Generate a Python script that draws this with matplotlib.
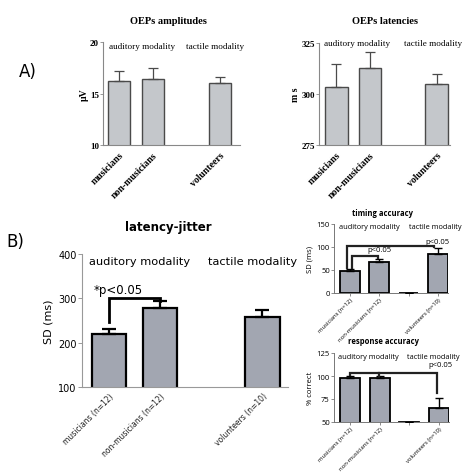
import matplotlib
matplotlib.use("Agg")
import matplotlib.pyplot as plt
import numpy as np

# ---------------- data ----------------
groups_a = ["musicians", "non-musicians", "volunteers"]
amp_means = [16.2, 16.4, 16.0]
amp_err = [1.0, 1.1, 0.65]
lat_means = [303.6, 312.6, 304.8]
lat_err = [11.0, 8.2, 5.2]

groups_b = ["musicians (n=12)", "non-musicians (n=12)", "volunteers (n=10)"]
jitter_means = [218.7, 278.8, 257.9]
jitter_err = [12.8, 14.2, 14.8]

groups_c = ["musicians (n=12)", "non-musicians (n=12)", "", "volunteers (n=10)"]
timing_means = [47.0, 68.0, 0.6, 84.8]
timing_err = [5.0, 6.6, 0.0, 12.2]
resp_means = [98.3, 98.3, 50.4, 65.5]
resp_err = [1.7, 1.7, 0.0, 10.5]

W, H = 474, 477
fig = plt.figure(figsize=(W / 100, H / 100), dpi=100)


def ax_at(x0, y0, x1, y1):
    return fig.add_axes([x0 / W, 1 - y1 / H, (x1 - x0) / W, (y1 - y0) / H])


def ftext(x, y, s, **kw):
    fig.text(x / W, 1 - y / H, s, **kw)


serif = "Liberation Serif"
comic = "DejaVu Sans"
myriad = "Open Sans"

# ---------------- panel A ----------------
light = "#c4c7cb"
edge_a = "#4a4a4a"


def style_a(ax, ylim, yticks, ylabel, xlim):
    for s in ["top", "right"]:
        ax.spines[s].set_visible(False)
    ax.spines["left"].set_color("#888888")
    ax.spines["bottom"].set_color("#888888")
    ax.set_ylim(*ylim)
    ax.set_xlim(*xlim)
    ax.set_yticks(yticks)
    ax.set_yticklabels([str(t) for t in yticks], fontfamily=serif,
                       fontweight="bold", fontsize=6.5)
    ax.tick_params(axis="y", length=2, width=0.6, color="#888888", pad=1)
    ax.tick_params(axis="x", length=0)
    ax.set_ylabel(ylabel, fontfamily=serif, fontweight="bold", fontsize=7,
                  labelpad=1)


pos_a = [0, 1, 3]
ax1 = ax_at(103, 43, 240, 146)
ax1.bar(pos_a, amp_means, width=0.65, color=light, edgecolor=edge_a,
        linewidth=1.0, zorder=2)
ax1.errorbar(pos_a, amp_means, yerr=[np.zeros(3), amp_err], fmt="none",
             ecolor=edge_a, elinewidth=0.9, capsize=3.5, capthick=0.9, zorder=3)
style_a(ax1, (10, 20), [10, 15, 20], "µV", (-0.48, 3.6))
ax1.set_xticks(pos_a)
ax1.set_xticklabels(groups_a, rotation=45, ha="right", rotation_mode="anchor",
                    fontfamily=serif, fontweight="bold", fontsize=7)
ax1.text(0.68, 19.6, "auditory modality", ha="center", va="center",
         fontfamily=serif, fontsize=6.6, clip_on=False)
ax1.text(2.85, 19.6, "tactile modality", ha="center", va="center",
         fontfamily=serif, fontsize=6.6, clip_on=False)
ftext(168, 21, "OEPs amplitudes", ha="center", va="center", fontfamily=serif,
      fontweight="bold", fontsize=7.5)

ax2 = ax_at(319, 44, 450, 146)
ax2.bar(pos_a, lat_means, width=0.67, color=light, edgecolor=edge_a,
        linewidth=1.0, zorder=2)
ax2.errorbar(pos_a, lat_means, yerr=[np.zeros(3), lat_err], fmt="none",
             ecolor=edge_a, elinewidth=0.9, capsize=3.5, capthick=0.9, zorder=3)
style_a(ax2, (275, 325), [275, 300, 325], "m s", (-0.52, 3.4))
ax2.set_xticks(pos_a)
ax2.set_xticklabels(groups_a, rotation=45, ha="right", rotation_mode="anchor",
                    fontfamily=serif, fontweight="bold", fontsize=7)
ax2.text(0.63, 325, "auditory modality", ha="center", va="center",
         fontfamily=serif, fontsize=6.6, clip_on=False)
ax2.text(2.88, 325, "tactile modality", ha="center", va="center",
         fontfamily=serif, fontsize=6.6, clip_on=False)
ftext(385, 21, "OEPs latencies", ha="center", va="center", fontfamily=serif,
      fontweight="bold", fontsize=7.5)

ftext(28, 72, "A)", ha="center", va="center", fontfamily="DejaVu Sans",
      fontsize=12)
ftext(15, 242, "B)", ha="center", va="center", fontfamily="DejaVu Sans",
      fontsize=12)

# ---------------- panel B left ----------------
dark = "#a2a6b1"
ax3 = ax_at(82, 255, 288, 388)
pos_b = [0, 1, 3]
ax3.bar(pos_b, jitter_means, width=0.67, color=dark, edgecolor="black",
        linewidth=1.6, zorder=2)
ax3.errorbar(pos_b, jitter_means, yerr=[np.zeros(3), jitter_err], fmt="none",
             ecolor="black", elinewidth=1.6, capsize=5, capthick=1.6, zorder=3)
for s in ["top", "right"]:
    ax3.spines[s].set_visible(False)
ax3.spines["left"].set_color("#999999")
ax3.spines["bottom"].set_color("#999999")
ax3.set_ylim(100, 400)
ax3.set_xlim(-0.53, 3.5)
ax3.set_yticks([100, 200, 300, 400])
ax3.set_yticklabels(["100", "200", "300", "400"], fontfamily=comic, fontsize=7)
ax3.tick_params(axis="y", length=3, width=0.7, color="#999999", pad=1)
ax3.tick_params(axis="x", length=0, pad=3)
ax3.set_xticks(pos_b)
ax3.set_xticklabels(groups_b, rotation=45, ha="right", rotation_mode="anchor",
                    fontfamily=comic, fontsize=5.5, color="#222222")
ax3.set_ylabel("SD (ms)", fontfamily=comic, fontsize=8, labelpad=3)
ax3.text(0.59, 384, "auditory modality", ha="center", va="center",
         fontfamily=comic, fontsize=8.2, clip_on=False)
ax3.text(2.81, 384, "tactile modality", ha="center", va="center",
         fontfamily=comic, fontsize=8.2, clip_on=False)
ax3.plot([0, 0, 1, 1], [247, 300.5, 300.5, 294], color="black", lw=2.0,
         solid_joinstyle="miter", zorder=4)
ax3.text(0.18, 321, "*p<0.05", ha="center", va="center", fontfamily=comic,
         fontsize=8.5)
ftext(168, 228, "latency-jitter", ha="center", va="center", fontfamily=comic,
      fontsize=8.5, fontweight="bold")

# ---------------- panel B right ----------------
pos_c = [0, 1, 2, 3]


def style_c(ax, ylim, yticks, ylabel):
    for s in ["top", "right"]:
        ax.spines[s].set_visible(False)
    ax.spines["left"].set_color("#777777")
    ax.spines["bottom"].set_color("#777777")
    ax.spines["left"].set_linewidth(0.7)
    ax.spines["bottom"].set_linewidth(0.7)
    ax.set_ylim(*ylim)
    ax.set_xlim(-0.55, 3.35)
    ax.set_yticks(yticks)
    ax.set_yticklabels([str(t) for t in yticks], fontfamily=myriad, fontsize=5.5)
    ax.tick_params(axis="y", length=2, width=0.6, color="#777777", pad=1)
    ax.tick_params(axis="x", length=2, width=0.6, color="#777777", pad=1)
    ax.set_xticks(pos_c)
    ax.set_xticklabels(groups_c, rotation=45, ha="right",
                       rotation_mode="anchor", fontfamily=myriad, fontsize=4.2)
    ax.set_ylabel(ylabel, fontfamily=myriad, fontsize=5.5, labelpad=2)


ax4 = ax_at(334, 225, 448, 294)
ax4.bar(pos_c, timing_means, width=0.68, color=dark, edgecolor="black",
        linewidth=1.3, zorder=2)
ax4.errorbar(pos_c, timing_means, yerr=[np.zeros(4), timing_err], fmt="none",
             ecolor="black", elinewidth=1.0, capsize=3, capthick=1.0, zorder=3)
style_c(ax4, (0, 150), [0, 50, 100, 150], "SD (ms)")
ax4.plot([-0.12, -0.12, 2.86, 2.86], [54, 103, 103, 100], color="#222222",
         lw=1.6, solid_joinstyle="miter", zorder=4)
ax4.plot([0.06, 0.06, 0.97, 0.97], [54, 81, 81, 76], color="#222222",
         lw=1.6, solid_joinstyle="miter", zorder=4)
ax4.text(1.02, 93.5, "p<0.05", ha="center", va="center", fontfamily=myriad,
         fontsize=5.5)
ax4.text(3.0, 113, "p<0.05", ha="center", va="center", fontfamily=myriad,
         fontsize=5.5)
ax4.text(0.67, 143.5, "auditory modality", ha="center", va="center",
         fontfamily=myriad, fontsize=5.3, clip_on=False)
ax4.text(2.93, 143.5, "tactile modality", ha="center", va="center",
         fontfamily=myriad, fontsize=5.3, clip_on=False)
ftext(382, 213, "timing accuracy", ha="center", va="center", fontfamily=myriad,
      fontsize=5.5, fontweight="bold")

ax5 = ax_at(334, 354, 449, 423)
ax5.bar(pos_c, resp_means, width=0.68, bottom=0, color=dark, edgecolor="black",
        linewidth=1.3, zorder=2)
ax5.errorbar(pos_c, resp_means, yerr=[np.zeros(4), resp_err], fmt="none",
             ecolor="black", elinewidth=1.0, capsize=3, capthick=1.0, zorder=3)
style_c(ax5, (50, 125), [50, 75, 100, 125], "% correct")
ax5.plot([0, 0, 2.93, 2.93], [101, 103.6, 103.6, 81], color="#222222",
         lw=1.6, solid_joinstyle="miter", zorder=4)
ax5.plot([0.97, 0.97], [103.6, 100.5], color="#222222", lw=1.6, zorder=4)
ax5.text(3.05, 112.7, "p<0.05", ha="center", va="center", fontfamily=myriad,
         fontsize=5.5)
ax5.text(0.63, 121.7, "auditory modality", ha="center", va="center",
         fontfamily=myriad, fontsize=5.3, clip_on=False)
ax5.text(2.82, 121.7, "tactile modality", ha="center", va="center",
         fontfamily=myriad, fontsize=5.3, clip_on=False)
ftext(383, 342, "response accuracy", ha="center", va="center",
      fontfamily=myriad, fontsize=5.5, fontweight="bold")

fig.savefig("out.png", dpi=100)
